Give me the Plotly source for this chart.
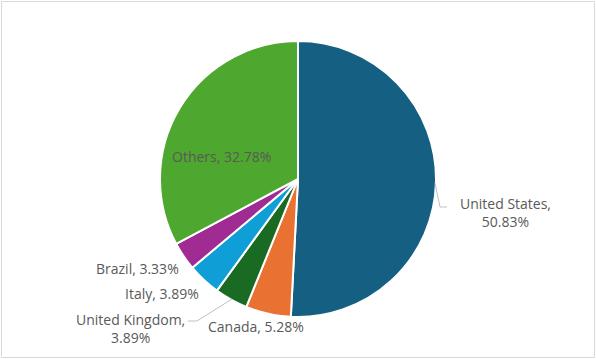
import plotly.graph_objects as go

countries = ["United States", "Canada", "United Kingdom", "Italy", "Brazil", "Others"]
shares = [50.83, 5.28, 3.89, 3.89, 3.33, 32.78]
colors = ["#156082", "#E97132", "#196B24", "#0F9ED5", "#A02B93", "#4EA72E"]

W, H = 596, 359
cx, cy, r = 298, 179, 138

fig = go.Figure(go.Pie(
    labels=countries, values=shares, sort=False, direction="clockwise", rotation=0,
    marker=dict(colors=colors, line=dict(color="white", width=2)),
    textinfo="none", hoverinfo="label+percent", showlegend=False,
    domain=dict(x=[(cx - r) / W, (cx + r) / W], y=[(H - cy - r) / H, (H - cy + r) / H]),
))

# label positions (pixels) and line breaks
label_pos = {
    "United States": (505, 212, True),
    "Canada": (256, 326, False),
    "United Kingdom": (130, 328, True),
    "Italy": (162, 293, False),
    "Brazil": (137, 268, False),
    "Others": (221, 156, False),
}
for name, val in zip(countries, shares):
    x, y, br = label_pos[name]
    sep = ",<br>" if br else ", "
    fig.add_annotation(x=x / W, y=1 - y / H, xref="paper", yref="paper",
                       text=f"{name}{sep}{val:.2f}%", showarrow=False,
                       font=dict(family="Open Sans", size=14, color="#595959"),
                       xanchor="center", yanchor="middle", align="center")

def px(x, y):
    return x / W, 1 - y / H

leaders = [
    [(435, 183), (440, 207), (447, 207)],
    [(232, 299), (197, 321), (188, 321)],
]
for pts in leaders:
    path = "M " + " L ".join(f"{px(*p)[0]},{px(*p)[1]}" for p in pts)
    fig.add_shape(type="path", path=path, xref="paper", yref="paper",
                  line=dict(color="#BFBFBF", width=1))

fig.add_shape(type="rect", xref="paper", yref="paper",
              x0=1.5 / W, x1=1 - 1.5 / W, y0=1.5 / H, y1=1 - 1.5 / H,
              line=dict(color="#D9D9D9", width=1))

fig.update_layout(width=W, height=H, margin=dict(l=0, r=0, t=0, b=0),
                  paper_bgcolor="white", plot_bgcolor="white")
fig.write_html("out.html", config={"displayModeBar": False},
               post_script="document.body.style.margin='0';document.body.style.overflow='hidden';")
